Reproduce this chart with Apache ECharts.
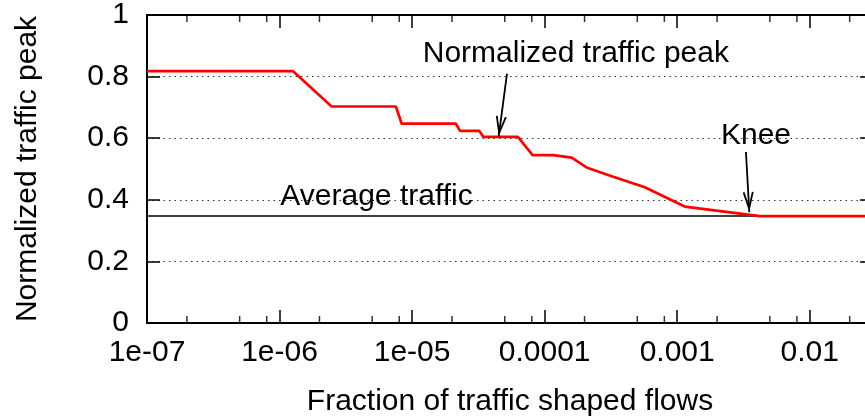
<!DOCTYPE html>
<html>
<head>
<meta charset="utf-8">
<script src="https://cdn.jsdelivr.net/npm/echarts@6/dist/echarts.min.js"></script>
<style>
  html, body { margin: 0; padding: 0; background: #fff; }
  #chart { width: 865px; height: 416px; }
</style>
</head>
<body>
<div id="chart"></div>
<script>
// Log-scale x axis: fraction of flows that are traffic shaped
const xMin = 1e-7;
const xMax = 0.03;
const xTickValues = [1e-7, 1e-6, 1e-5, 1e-4, 1e-3, 1e-2];
const xTickLabels = ['1e-07', '1e-06', '1e-05', '0.0001', '0.001', '0.01'];
const xMinorTicks = [
  2e-7, 5e-7, 8e-7, 2e-6, 5e-6, 8e-6, 2e-5, 5e-5, 8e-5,
  2e-4, 5e-4, 8e-4, 2e-3, 5e-3, 8e-3, 2e-2
];

// Normalized traffic peak as a function of the shaped fraction
const shapedFraction = [
  1e-7, 1.26e-6, 2.47e-6, 7.55e-6, 8.34e-6, 2.14e-5, 2.30e-5, 3.21e-5,
  3.45e-5, 6.28e-5, 8.11e-5, 1.16e-4, 1.60e-4, 2.07e-4, 3.29e-4,
  5.70e-4, 1.14e-3, 4.20e-3, 0.03
];
const trafficPeak = [
  0.818, 0.818, 0.703, 0.703, 0.647, 0.647, 0.624, 0.624,
  0.604, 0.604, 0.545, 0.545, 0.537, 0.505, 0.475,
  0.441, 0.378, 0.347, 0.347
];

// Average traffic level (horizontal reference)
const averageTraffic = 0.347;

// Text annotations (centre positions in data coordinates)
const noteTexts = ['Normalized traffic peak', 'Knee', 'Average traffic'];
const noteX = [1.72e-4, 3.93e-3, 5.39e-6];
const noteY = [0.873, 0.607, 0.409];

// Arrows: [fromX, fromY, toX, toY]
const peakArrow = [5.2e-5, 0.81, 4.5e-5, 0.606];
const kneeArrow = [3.3e-3, 0.555, 3.5e-3, 0.36];

const FONT = 'Liberation Sans, Arial, Helvetica, sans-serif';
const FS = 30;

// Open arrow head (two strokes), tip at the centre of its box
const arrowHead = 'path://M20,0 L20.01,0 L20,0.01 Z M20,20 L25.5,40 L23.6,40 L20,26.5 L16.4,40 L14.5,40 Z';

function xLabel(v) {
  for (let i = 0; i < xTickValues.length; i++) {
    if (Math.abs(Math.log10(v) - Math.log10(xTickValues[i])) < 1e-6) return xTickLabels[i];
  }
  return '';
}

const lineData = shapedFraction.map((x, i) => [x, trafficPeak[i]]);
const notes = noteTexts.map((t, i) => ({ name: t, value: [noteX[i], noteY[i]] }));

const baseX = {
  type: 'log',
  logBase: 10,
  min: xMin,
  max: xMax,
  axisLine: { show: true, onZero: false, lineStyle: { color: '#000', width: 2 } },
  axisTick: { show: true, inside: true, length: 13, lineStyle: { color: '#000', width: 1.5 } },
  splitLine: { show: false },
  minorTick: { show: false }
};

const baseY = {
  type: 'value',
  min: 0,
  max: 1,
  interval: 0.2,
  axisLine: { show: true, onZero: false, lineStyle: { color: '#000', width: 2 } },
  axisTick: { show: true, inside: true, length: 13, lineStyle: { color: '#000', width: 1.5 } }
};

const option = {
  animation: false,
  backgroundColor: '#fff',
  grid: {
    left: 147, right: -8, top: 15, bottom: 93,
    containLabel: false,
    outerBoundsMode: 'none'
  },
  xAxis: [
    Object.assign({}, baseX, {
      position: 'bottom',
      name: 'Fraction of traffic shaped flows',
      nameLocation: 'middle',
      nameGap: 64,
      nameTextStyle: { color: '#000', fontSize: FS, fontFamily: FONT },
      axisLabel: {
        show: true, color: '#000', fontSize: FS, fontFamily: FONT, margin: 15,
        formatter: xLabel, showMaxLabel: false
      }
    }),
    Object.assign({}, baseX, {
      position: 'top',
      axisLabel: { show: false }
    })
  ],
  yAxis: [
    Object.assign({}, baseY, {
      position: 'left',
      name: 'Normalized traffic peak',
      nameLocation: 'middle',
      nameGap: 104,
      nameTextStyle: { color: '#000', fontSize: FS, fontFamily: FONT },
      axisLabel: { show: true, color: '#000', fontSize: FS, fontFamily: FONT, margin: 18 },
      splitLine: { show: true, lineStyle: { color: '#333', width: 1, type: [1.5, 4] } }
    }),
    Object.assign({}, baseY, {
      position: 'right',
      axisLabel: { show: false },
      splitLine: { show: false }
    })
  ],
  series: [
    {
      name: 'Average traffic',
      type: 'line',
      data: [[xMin, averageTraffic], [xMax, averageTraffic]],
      symbol: 'none',
      lineStyle: { color: '#000', width: 1.5 },
      silent: true,
      markLine: {
        silent: true,
        symbol: ['none', arrowHead],
        symbolSize: 40,
        symbolKeepAspect: true,
        label: { show: false },
        lineStyle: { color: '#000', width: 1.8, type: 'solid' },
        data: [
          [{ coord: [peakArrow[0], peakArrow[1]] }, { coord: [peakArrow[2], peakArrow[3]] }],
          [{ coord: [kneeArrow[0], kneeArrow[1]] }, { coord: [kneeArrow[2], kneeArrow[3]] }]
        ]
      }
    },
    {
      name: 'Normalized traffic peak',
      type: 'line',
      data: lineData,
      symbol: 'none',
      lineStyle: { color: '#ff0000', width: 2.7 },
      silent: true
    },
    {
      name: 'minor-bottom',
      type: 'scatter',
      data: xMinorTicks.map(v => [v, 0]),
      symbol: 'rect',
      symbolSize: [1.5, 7],
      symbolOffset: [0, -3.5],
      itemStyle: { color: '#000' },
      clip: false,
      silent: true
    },
    {
      name: 'minor-top',
      type: 'scatter',
      data: xMinorTicks.map(v => [v, 1]),
      symbol: 'rect',
      symbolSize: [1.5, 7],
      symbolOffset: [0, 3.5],
      itemStyle: { color: '#000' },
      clip: false,
      silent: true
    },
    {
      name: 'notes',
      type: 'scatter',
      data: notes,
      symbolSize: 0,
      silent: true,
      itemStyle: { color: '#000', opacity: 1 },
      label: {
        show: true,
        position: 'inside',
        formatter: '{b}',
        color: '#000',
        opacity: 1,
        textBorderWidth: 0,
        fontSize: FS,
        fontFamily: FONT
      }
    }
  ]
};

const chart = echarts.init(document.getElementById('chart'), null, { renderer: 'canvas' });
chart.setOption(option);
</script>
</body>
</html>
